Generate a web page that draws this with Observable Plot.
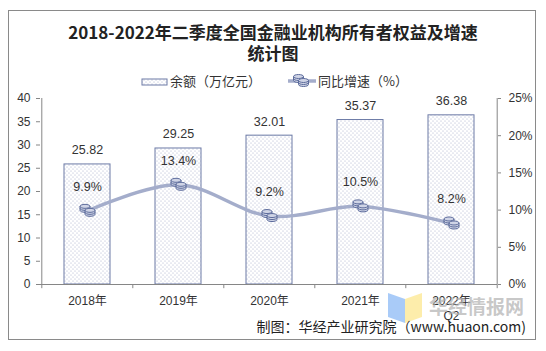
<!DOCTYPE html>
<html>
<head>
<meta charset="utf-8">
<script src="https://cdn.jsdelivr.net/npm/d3@7"></script>
<script src="https://cdn.jsdelivr.net/npm/@observablehq/plot@0.6"></script>
<style>
  html, body { margin: 0; padding: 0; background: #fff; }
  #wrap { position: relative; width: 546px; height: 351px; background: #fff; overflow: hidden;
          font-family: "Liberation Sans", "Noto Sans CJK SC", sans-serif; color: #333; }
  .abs { position: absolute; }
  #border { left: 8px; top: 10px; width: 528px; height: 330px; box-sizing: border-box; border: 1px solid #8a8a8a; }
  #title { left: 0; top: 21px; width: 546px; text-align: center; font-family: "Noto Sans CJK SC", sans-serif;
           font-weight: 700; font-size: 17px; line-height: 21px; color: #222; }
  #legend { top: 72px; left: 0; width: 546px; height: 18px; font-family: "Noto Sans CJK SC", sans-serif; font-size: 13px; color: #333; }
  #caption { right: 20px; top: 316px; font-family: "Noto Sans CJK SC", "Liberation Sans", sans-serif; font-size: 14px; color: #222; white-space: nowrap; }
  #wm { left: 429px; top: 292px; font-family: "Noto Sans CJK SC", sans-serif; font-weight: 700; font-size: 19px; color: rgba(175,175,175,0.7); white-space: nowrap; }
</style>
</head>
<body>
<div id="wrap">
  <svg width="0" height="0" style="position:absolute">
    <defs>
      <pattern id="dots" width="4" height="4" patternUnits="userSpaceOnUse">
        <rect width="4" height="4" fill="#ffffff"></rect>
        <circle cx="1" cy="1" r="0.55" fill="#a3abc9"></circle>
        <circle cx="3" cy="3" r="0.55" fill="#a3abc9"></circle>
      </pattern>
    </defs>
  </svg>
  <div id="border" class="abs"></div>
  <div id="title" class="abs">2018-2022年二季度全国金融业机构所有者权益及增速<br>统计图</div>
  <div id="legend" class="abs"></div>
  <div id="chart" class="abs" style="left:0;top:0"></div>
  <svg class="abs" style="left:386px;top:291px" width="40" height="34">
    <polygon points="2,2 19,8 19,32 2,26" fill="rgba(140,185,245,0.75)"></polygon>
    <polygon points="19,8 36,2 36,26 19,32" fill="rgba(252,232,150,0.8)"></polygon>
  </svg>
  <div id="wm" class="abs">华经情报网</div>
  <div id="caption" class="abs">制图：华经产业研究院（www.huaon.com)</div>
</div>
<script>
// ---- data ----
const years = ["2018年", "2019年", "2020年", "2021年", "2022年Q2"];
const balance = [25.82, 29.25, 32.01, 35.37, 36.38];   // 余额（万亿元）
const growth = [9.9, 13.4, 9.2, 10.5, 8.2];            // 同比增速（%）
const leftTicks = [0, 5, 10, 15, 20, 25, 30, 35, 40];
const rightTicks = [0, 5, 10, 15, 20, 25];
const legendLabels = ["余额（万亿元）", "同比增速（%）"];

const rows = years.map((year, i) => ({year, balance: balance[i], growth: growth[i]}));

// layout
const W = 546, H = 351, mL = 40, mR = 49, mT = 98, mB = 67;
const yMax = 40, pMax = 25, ratio = yMax / pMax;
const step = (W - mL - mR) / years.length;
const axisColor = "#868686";
const lineColor = "#a4adcb";
const coinFill = "#cfd4e6", coinStroke = "#5d6c9c";

function stackPath(ctx, cx, cy, rx, ry, h) {
  const k = 0.5523;
  ctx.moveTo(cx - rx, cy);
  ctx.lineTo(cx - rx, cy + h);
  ctx.bezierCurveTo(cx - rx, cy + h + k * ry, cx - k * rx, cy + h + ry, cx, cy + h + ry);
  ctx.bezierCurveTo(cx + k * rx, cy + h + ry, cx + rx, cy + h + k * ry, cx + rx, cy + h);
  ctx.lineTo(cx + rx, cy);
  ctx.bezierCurveTo(cx + rx, cy - k * ry, cx + k * rx, cy - ry, cx, cy - ry);
  ctx.bezierCurveTo(cx - k * rx, cy - ry, cx - rx, cy - k * ry, cx - rx, cy);
  ctx.closePath();
  for (const yy of [cy, cy + h / 2]) {
    ctx.moveTo(cx - rx, yy);
    ctx.bezierCurveTo(cx - rx, yy + k * ry, cx - k * rx, yy + ry, cx, yy + ry);
    ctx.bezierCurveTo(cx + k * rx, yy + ry, cx + rx, yy + k * ry, cx + rx, yy);
  }
}
const coinBack = {draw(ctx) { stackPath(ctx, -2.5, -4.5, 5, 2, 4); }};
const coinFront = {draw(ctx) { stackPath(ctx, 2.5, -0.5, 5, 2, 4); }};

const chart = Plot.plot({
  width: W, height: H,
  marginLeft: mL, marginRight: mR, marginTop: mT, marginBottom: mB,
  style: {fontFamily: "'Liberation Sans', 'Noto Sans CJK SC', sans-serif", fontSize: "12px", color: "#333", background: "transparent", overflow: "visible"},
  x: {type: "band", domain: years, paddingInner: 0.5, paddingOuter: 0.25, axis: null, label: null},
  y: {domain: [0, yMax], axis: null, label: null},
  marks: [
    Plot.barY(rows, {x: "year", y: "balance", fill: "url(#dots)", stroke: "#6c7aa6", strokeWidth: 1}),
    // axis lines
    Plot.ruleY([0], {stroke: axisColor}),
    Plot.ruleX([years[0]], {dx: -step / 2, y1: 0, y2: yMax, stroke: axisColor}),
    Plot.ruleX([years[years.length - 1]], {dx: step / 2, y1: 0, y2: yMax, stroke: axisColor}),
    // category boundary ticks
    Plot.ruleX(years, {dx: -step / 2, y1: 0, y2: -0.9, stroke: axisColor}),
    Plot.ruleX([years[years.length - 1]], {dx: step / 2, y1: 0, y2: -0.9, stroke: axisColor}),
    Plot.axisY(leftTicks, {anchor: "left", label: null, tickSize: 4, tickPadding: 6, stroke: axisColor, fill: "#333", fontSize: 12}),
    Plot.axisY(rightTicks.map(v => v * ratio), {anchor: "right", label: null, tickSize: 3, tickPadding: 8, stroke: axisColor, fill: "#333", fontSize: 12,
      tickFormat: d => Math.round(d / ratio) + "%"}),
    Plot.axisX({anchor: "bottom", label: null, tickSize: 0, tickPadding: 9, fill: "#333", fontSize: 12, lineHeight: 1.3,
      tickFormat: d => d.replace("年Q2", "年\nQ2")}),
    // line
    Plot.line(rows, {x: "year", y: d => d.growth * ratio, curve: "catmull-rom", stroke: lineColor, strokeWidth: 3.5}),
    Plot.dot(rows, {x: "year", y: d => d.growth * ratio, symbol: coinBack, r: 5, fill: coinFill, stroke: coinStroke, strokeWidth: 1}),
    Plot.dot(rows, {x: "year", y: d => d.growth * ratio, symbol: coinFront, r: 5, fill: coinFill, stroke: coinStroke, strokeWidth: 1}),
    // labels
    Plot.text(rows, {x: "year", y: "balance", text: d => d.balance.toFixed(2), dy: -14, fill: "#333", fontSize: 12.5}),
    Plot.text(rows, {x: "year", y: d => d.growth * ratio, text: d => d.growth.toFixed(1) + "%", dy: -24, fill: "#333", fontSize: 12.5})
  ]
});
document.getElementById("chart").appendChild(chart);

// legend
const p = d3.path();
stackPath(p, -2.5, -4.5, 5, 2, 4);
const p2 = d3.path();
stackPath(p2, 2.5, -0.5, 5, 2, 4);
document.getElementById("legend").innerHTML = `
  <svg class="abs" style="left:141px;top:5px" width="28" height="10"><rect x="1" y="2" width="25" height="6" fill="url(#dots)" stroke="#6c7aa6" stroke-width="1"></rect></svg>
  <div class="abs" style="left:170px;top:-1px;white-space:nowrap">${legendLabels[0]}</div>
  <svg class="abs" style="left:286px;top:0px" width="32" height="18">
    <line x1="2" y1="9" x2="30" y2="9" stroke="${lineColor}" stroke-width="3.5"></line>
    <g transform="translate(15,9)">
      <path d="${p.toString()}" fill="${coinFill}" stroke="${coinStroke}" stroke-width="1"></path>
      <path d="${p2.toString()}" fill="${coinFill}" stroke="${coinStroke}" stroke-width="1"></path>
    </g>
  </svg>
  <div class="abs" style="left:318px;top:-1px;white-space:nowrap">${legendLabels[1]}</div>`;
</script>
</body>
</html>
